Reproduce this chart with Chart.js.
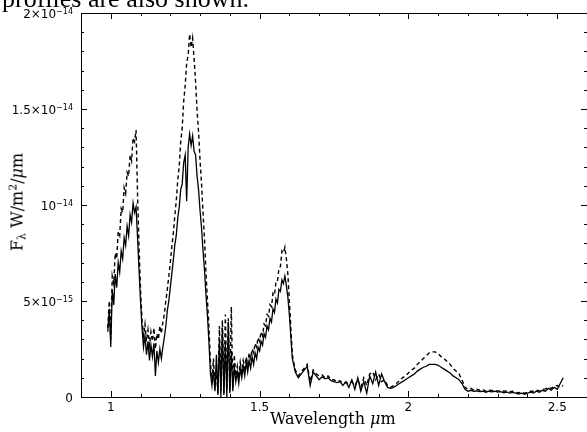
<!DOCTYPE html>
<html><head><meta charset="utf-8">
<script src="https://cdn.jsdelivr.net/npm/chart.js@4/dist/chart.umd.min.js"></script>
<style>
html,body{margin:0;padding:0;background:#fff;overflow:hidden;}
#wrap{position:relative;width:587px;height:432px;overflow:hidden;}
canvas{position:absolute;left:0;top:0;}
.cap{position:absolute;left:2px;top:-14px;font:26px/26px "Liberation Serif",serif;white-space:nowrap;color:#000;}
.xt{position:absolute;left:270px;top:409px;font:16px/20px "DejaVu Serif",serif;white-space:nowrap;color:#000;}
.yt{position:absolute;left:18px;top:202px;font:16px/20px "DejaVu Serif",serif;white-space:nowrap;color:#000;transform:translate(-50%,-50%) rotate(-90deg);}
.yt sub{font-size:11px;vertical-align:-3px;}
.yt sup{font-size:11px;vertical-align:6px;}
</style></head>
<body><div id="wrap">
<canvas id="c" width="587" height="432"></canvas>
<div class="cap">profiles are also shown.</div>
<div class="xt">Wavelength <i>μ</i>m</div>
<div class="yt">F<sub>λ</sub> W/m<sup>2</sup>/<i>μ</i>m</div>
</div>
<script>
// wavelength (micron)
const wavelength = [
0.990,0.995,1.000,1.005,1.010,1.015,1.020,1.025,1.030,1.035,
1.040,1.045,1.050,1.055,1.060,1.065,1.070,1.075,1.080,1.085,
1.090,1.095,1.100,1.105,1.110,1.115,1.120,1.125,1.130,1.135,
1.140,1.145,1.150,1.155,1.160,1.165,1.170,1.175,1.180,1.185,
1.190,1.195,1.200,1.205,1.210,1.215,1.220,1.225,1.230,1.235,
1.240,1.245,1.250,1.255,1.260,1.265,1.270,1.275,1.280,1.285,
1.290,1.295,1.300,1.305,1.310,1.315,1.320,1.325,1.330,1.335,
1.340,1.345,1.350,1.355,1.360,1.365,1.370,1.375,1.380,1.385,
1.390,1.395,1.400,1.405,1.410,1.415,1.420,1.425,1.430,1.435,
1.440,1.445,1.450,1.455,1.460,1.465,1.470,1.475,1.480,1.485,
1.490,1.495,1.500,1.505,1.510,1.515,1.520,1.525,1.530,1.535,
1.540,1.545,1.550,1.555,1.560,1.565,1.570,1.575,1.580,1.585,
1.590,1.595,1.600,
1.61,1.62,1.63,1.64,1.65,1.66,1.67,1.68,
1.69,1.70,1.71,1.72,1.73,1.74,1.75,1.76,1.77,1.78,
1.79,1.80,1.81,1.82,1.83,1.84,1.85,1.86,1.87,1.88,
1.89,1.90,1.91,1.92,1.93,1.94,1.95,1.96,1.97,1.98,
1.99,2.00,2.01,2.02,2.03,2.04,2.05,2.06,2.07,2.08,
2.09,2.10,2.11,2.12,2.13,2.14,2.15,2.16,2.17,2.18,
2.19,2.20,2.21,2.22,2.23,2.24,2.25,2.26,2.27,2.28,
2.29,2.30,2.31,2.32,2.33,2.34,2.35,2.36,2.37,2.38,
2.39,2.40,2.41,2.42,2.43,2.44,2.45,2.46,2.47,2.48,
2.49,2.50,2.51,2.52];
// flux in units of 1e-15 W/m2/um — solid curve
const fluxSolid = [
3.4,4.6,2.6,5.6,4.8,6.4,5.7,7.0,6.5,7.6,
7.2,8.3,7.9,8.9,8.4,9.5,9.1,10.1,9.6,9.9,
8.3,6.6,5.0,3.6,2.6,3.2,2.2,2.9,1.9,2.7,
2.1,2.8,1.1,2.4,1.8,2.5,2.0,2.6,3.1,3.7,
4.5,5.0,5.7,6.4,7.1,7.9,8.4,9.3,9.9,10.8,
11.1,12.2,12.6,10.2,13.0,13.7,13.1,13.6,12.8,12.6,
11.5,10.8,9.7,8.8,7.6,6.6,5.3,4.2,2.8,1.2,
0.6,1.4,0.3,2.2,0.1,3.0,0.0,3.6,0.1,2.8,
0.0,3.9,0.2,2.4,0.3,1.6,0.8,1.3,0.7,1.5,
1.0,1.6,1.1,1.8,1.3,1.9,1.5,2.1,1.7,2.3,
2.0,2.6,2.4,2.9,2.7,3.3,3.1,3.7,3.5,4.1,
3.9,4.6,4.4,5.1,4.9,5.6,5.5,6.1,5.9,6.3,
5.8,5.2,4.3,
2.0,1.3,1.0,1.2,1.4,1.6,0.6,1.3,
1.1,0.9,1.05,0.95,1.0,0.85,0.8,0.75,0.8,0.6,
0.8,0.5,0.9,0.4,1.0,0.3,0.8,0.2,1.1,0.7,
1.3,0.6,1.2,0.8,0.5,0.45,0.5,0.6,0.7,0.8,
0.9,1.0,1.1,1.2,1.35,1.45,1.55,1.6,1.7,1.7,
1.7,1.65,1.55,1.45,1.35,1.25,1.1,1.0,0.9,0.7,
0.4,0.3,0.35,0.3,0.32,0.28,0.3,0.25,0.3,0.27,
0.3,0.25,0.28,0.22,0.26,0.2,0.24,0.2,0.15,0.2,
0.14,0.2,0.25,0.2,0.3,0.25,0.35,0.3,0.45,0.35,
0.5,0.4,0.7,1.0];
// dashed curve
const fluxDashed = [
3.6,5.0,3.0,6.3,5.9,7.5,7.2,8.6,8.4,9.8,
9.6,10.9,10.6,11.7,11.5,12.6,12.3,13.5,13.3,13.9,
10.5,7.8,5.6,4.0,3.2,3.8,2.9,3.5,2.7,3.4,
2.9,3.6,2.5,3.3,3.0,3.7,3.3,3.9,4.3,5.0,
5.6,6.3,7.0,7.8,8.5,9.4,10.2,11.3,12.0,13.3,
14.0,15.4,16.2,17.4,17.8,18.9,18.2,18.7,17.6,16.4,
14.9,13.8,12.3,11.1,9.6,8.2,6.4,5.0,3.6,1.8,
0.9,2.0,0.4,1.4,0.2,3.7,0.3,4.0,0.2,4.3,
0.4,4.1,0.3,4.7,0.5,2.2,1.1,1.6,1.0,1.8,
1.3,1.9,1.5,2.1,1.7,2.3,2.0,2.5,2.3,2.8,
2.6,3.1,2.9,3.4,3.2,3.8,3.7,4.3,4.2,4.8,
4.7,5.4,5.3,6.0,6.0,6.7,6.8,7.6,7.5,7.8,
7.2,6.4,5.0,
2.2,1.4,1.1,1.3,1.5,1.7,0.8,1.4,
1.2,1.1,1.15,1.0,1.1,0.9,0.9,0.8,0.85,0.7,
0.75,0.7,0.8,0.6,0.9,0.5,1.0,0.6,1.2,1.3,
0.9,1.2,0.8,0.9,0.6,0.5,0.6,0.7,0.85,1.0,
1.1,1.25,1.4,1.5,1.7,1.85,2.0,2.15,2.3,2.35,
2.35,2.25,2.1,2.0,1.85,1.7,1.5,1.35,1.2,0.9,
0.5,0.4,0.45,0.35,0.4,0.35,0.4,0.3,0.38,0.33,
0.36,0.3,0.34,0.3,0.32,0.28,0.3,0.25,0.22,0.26,
0.2,0.25,0.3,0.3,0.35,0.32,0.4,0.42,0.5,0.45,
0.55,0.6,0.5,0.6];
const xTickValues = [1, 1.5, 2, 2.5];
const xTickLabels = ['1', '1.5', '2', '2.5'];
const yTickValues = [0, 5, 10, 15, 20];
const yTickBase = ['0', '5×10', '10', '1.5×10', '2×10'];
const yTickExp = ['', '−15', '−14', '−14', '−14'];

const frame = {
  id: 'frame',
  afterDraw(chart) {
    const {ctx, chartArea: a, scales: {x, y}} = chart;
    ctx.save();
    ctx.strokeStyle = '#000';
    ctx.lineWidth = 1;
    ctx.beginPath();
    ctx.moveTo(a.right + 2, a.top + 0.5); ctx.lineTo(a.left + 0.5, a.top + 0.5);
    ctx.lineTo(a.left + 0.5, a.bottom + 0.5); ctx.lineTo(a.right + 2, a.bottom + 0.5);
    ctx.stroke();
    ctx.beginPath();
    for (let i = 9; i <= 26; i++) {
      const px = Math.round(x.getPixelForValue(i / 10)) + 0.5;
      const len = (i % 5 === 0) ? 6 : 3;
      ctx.moveTo(px, a.bottom); ctx.lineTo(px, a.bottom - len);
      ctx.moveTo(px, a.top); ctx.lineTo(px, a.top + len);
    }
    for (let i = 0; i <= 20; i++) {
      const py = Math.round(y.getPixelForValue(i)) + 0.5;
      const len = (i % 5 === 0) ? 6 : 3;
      ctx.moveTo(a.left, py); ctx.lineTo(a.left + len, py);
      ctx.moveTo(a.right, py); ctx.lineTo(a.right - len, py);
    }
    ctx.stroke();
    // y tick labels with superscript exponents
    ctx.fillStyle = '#000';
    ctx.textAlign = 'right';
    ctx.textBaseline = 'alphabetic';
    yTickValues.forEach((v, i) => {
      const py = y.getPixelForValue(v);
      const xr = a.left - 8;
      ctx.font = '8px "DejaVu Sans", sans-serif';
      const ew = yTickExp[i] ? ctx.measureText(yTickExp[i]).width : 0;
      if (yTickExp[i]) ctx.fillText(yTickExp[i], xr, py + 1);
      ctx.font = '12px "DejaVu Sans", sans-serif';
      ctx.fillText(yTickBase[i], xr - ew, py + 5);
    });
    ctx.restore();
  }
};

new Chart(document.getElementById('c'), {
  type: 'line',
  data: {
    datasets: [
      {label: 'solid', data: wavelength.map((w, i) => ({x: w, y: fluxSolid[i]})),
       borderColor: '#000', borderWidth: 1.3, pointRadius: 0, tension: 0, fill: false},
      {label: 'dashed', data: wavelength.map((w, i) => ({x: w, y: fluxDashed[i]})),
       borderColor: '#000', borderWidth: 1.4, borderDash: [4, 3], pointRadius: 0, tension: 0, fill: false}
    ]
  },
  options: {
    responsive: false,
    animation: false,
    devicePixelRatio: 1,
    layout: {padding: {top: 13, right: 0, left: 0, bottom: 0}},
    plugins: {legend: {display: false}, tooltip: {enabled: false}},
    scales: {
      x: {
        type: 'linear', min: 0.9, max: 2.6,
        grid: {display: false, drawTicks: false}, border: {display: false},
        afterBuildTicks: s => { s.ticks = xTickValues.map(v => ({value: v})); },
        afterFit: s => { s.height = 35; },
        ticks: {padding: 4, color: '#000', maxRotation: 0, autoSkip: false,
          font: {family: '"DejaVu Sans", sans-serif', size: 12},
          callback: v => xTickLabels[xTickValues.indexOf(v)]}
      },
      y: {
        type: 'linear', min: 0, max: 20,
        grid: {display: false, drawTicks: false}, border: {display: false},
        afterBuildTicks: s => { s.ticks = yTickValues.map(v => ({value: v})); },
        afterFit: s => { s.width = 81; },
        ticks: {display: false}
      }
    }
  },
  plugins: [frame]
});
</script>
</body></html>
